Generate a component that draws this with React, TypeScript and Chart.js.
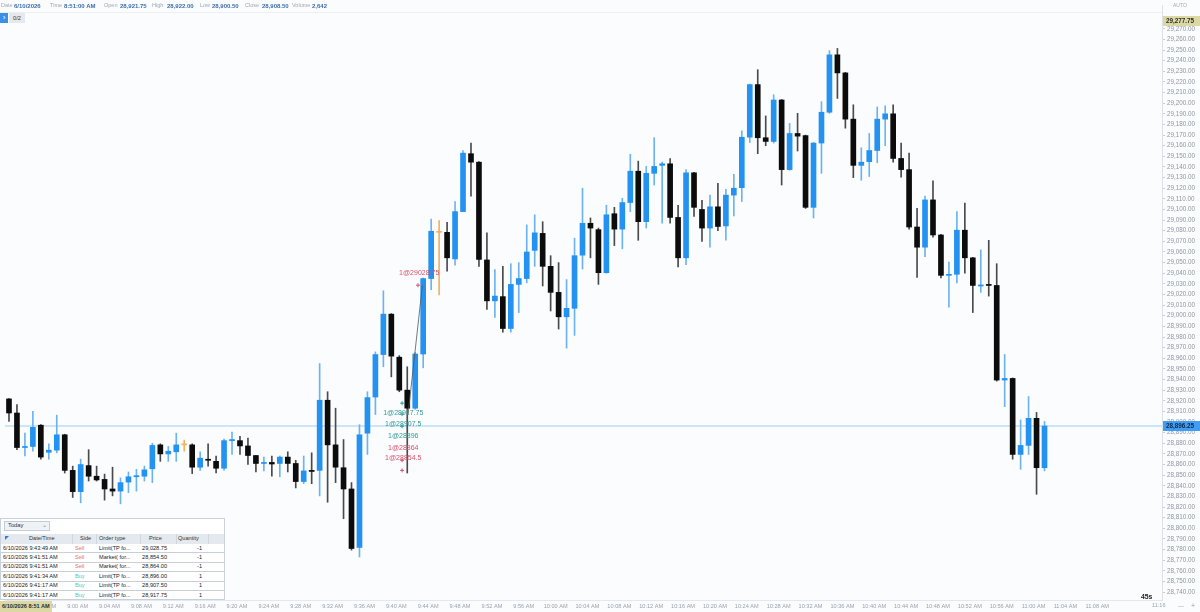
import React, { useEffect, useRef } from "react";
import { Chart, registerables } from "chart.js";

Chart.register(...registerables);

// ---------- data ----------
const START_MINUTE = 531; // 8:51 AM, one bar per minute

const opens = [
  28921.75, 28908.5, 28876, 28877, 28897, 28871.5, 28873.5, 28888, 28854.5, 28834.5,
  28859, 28849, 28846, 28837, 28835, 28843.5, 28848.5, 28849, 28856, 28878.5,
  28870, 28872, 28878.5, 28878.5, 28857.5, 28865, 28863, 28856.5, 28882.5, 28882.5,
  28877.5, 28868.5, 28861, 28862, 28861, 28867, 28861, 28844, 28854.5, 28854.5,
  28920.5, 28878.5, 28857, 28837, 28782, 28889.5, 28923.5, 28963.5, 29001.5, 28961,
  28930, 28913, 28964, 29035, 29078.5, 29078.5, 29053.5, 29098, 29152.5, 29144.5,
  29052.5, 29014, 29018, 28988, 29029.5, 29035, 29061.5, 29077.5, 29046.5, 29022,
  28999, 29007, 29057, 29087, 29081, 29040.5, 29096, 29081.5, 29106.5, 29136,
  29088.5, 29134, 29141.5, 29143, 29092.5, 29054.5, 29134.5, 29100, 29082.5, 29102.5,
  29084.5, 29113.5, 29120.5, 29168, 29217.5, 29167.5, 29164, 29203, 29137.5, 29171.5,
  29169.5, 29102, 29162.5, 29191.5, 29245.5, 29228.5, 29185, 29141.5, 29145, 29155.5,
  29185, 29190, 29148, 29137.5, 29083.5, 29064.5, 29109, 29076, 29038, 29039,
  29080.5, 29054.5, 29028, 29029.5, 29028.5, 28939.5, 28941, 28869.5, 28878, 28903.5,
  28857,
];
const highs = [
  28922, 28916.5, 28889.5, 28910, 28897.5, 28879.5, 28906.5, 28888.5, 28858.5, 28865,
  28874, 28858.5, 28851, 28857.5, 28847.5, 28853, 28855.5, 28858.5, 28880, 28879.5,
  28877, 28889.5, 28883, 28879.5, 28872, 28879.5, 28868, 28884, 28890.5, 28886.5,
  28885, 28868.5, 28867, 28868, 28868, 28872, 28864, 28868, 28871, 28955,
  28928.5, 28913, 28883.5, 28843, 28897.5, 28928.5, 28966, 29023.5, 29002, 28962.5,
  28952, 28965.5, 29035.5, 29091, 29089.5, 29088, 29107.5, 29155.5, 29162.5, 29145,
  29078, 29043.5, 29046.5, 29049, 29050, 29085.5, 29095, 29088.5, 29056.5, 29050,
  29034, 29073, 29120, 29092, 29082.5, 29104, 29102, 29110.5, 29152, 29145.5,
  29140.5, 29167.5, 29144.5, 29148, 29104, 29137.5, 29135, 29108.5, 29113.5, 29124.5,
  29119, 29133, 29174, 29218, 29231.5, 29188, 29208, 29203.5, 29181, 29190.5,
  29170, 29163, 29201.5, 29249.5, 29251.5, 29229, 29198.5, 29158, 29171.5, 29196.5,
  29197.5, 29198.5, 29162.5, 29153, 29101, 29112.5, 29127, 29076.5, 29050.5, 29098,
  29106, 29055, 29062, 29071, 29049, 28963.5, 28941.5, 28902, 28924, 28909,
  28900.5,
];
const lows = [
  28900.5, 28874, 28868, 28872.5, 28865, 28865, 28871, 28852, 28829, 28824,
  28844.5, 28844.5, 28826.5, 28830.5, 28823, 28833.5, 28835, 28844.5, 28843, 28863,
  28863, 28863, 28872.5, 28851.5, 28854.5, 28858.5, 28852, 28854.5, 28869.5, 28869.5,
  28860, 28853, 28854, 28849, 28848.5, 28853, 28838, 28842, 28842, 28830.5,
  28824.5, 28843, 28809, 28779.5, 28773, 28869.5, 28907, 28952, 28942.5, 28928.5,
  28852, 28912, 28951, 29024.5, 29019.5, 29042, 29047.5, 29098, 29112.5, 29046.5,
  29006, 28998.5, 28984.5, 28984.5, 29003, 29031, 29046.5, 29028, 29004.5, 28987.5,
  28969.5, 28981.5, 29044, 29054.5, 29029.5, 29040, 29066, 29063, 29098, 29071,
  29082.5, 29123, 29087, 29087, 29046, 29048, 29093.5, 29070, 29064.5, 29080,
  29071, 29094, 29107.5, 29163, 29152.5, 29160, 29162.5, 29123, 29137, 29155,
  29101, 29092, 29134, 29190.5, 29204.5, 29176.5, 29130, 29127.5, 29131, 29144,
  29160, 29144.5, 29130.5, 29081.5, 29036, 29055.5, 29074, 29035.5, 29008, 29031,
  29040, 29003, 29022, 29018.5, 28938.5, 28914.5, 28865, 28855.5, 28869.5, 28832,
  28854,
];
const closes = [
  28908.5, 28876, 28877, 28895, 28867, 28873.5, 28888, 28854.5, 28834.5, 28860,
  28849, 28845.5, 28837, 28835, 28843, 28848.5, 28849.5, 28855, 28878, 28870,
  28872.5, 28878.5, 28878.5, 28857.5, 28866, 28864, 28856.5, 28882.5, 28883.5, 28877.5,
  28868.5, 28861, 28862, 28860.5, 28867, 28861, 28844, 28854, 28853.5, 28920.5,
  28878.5, 28857.5, 28837, 28781, 28888, 28923, 28963.5, 29001.5, 28962, 28930,
  28913, 28964, 29035, 29079.5, 29078.5, 29054.5, 29098, 29153, 29144.5, 29053,
  29014, 29018.5, 28988, 29029.5, 29035, 29060, 29078, 29046.5, 29022, 28999,
  29007, 29056.5, 29087, 29082.5, 29040.5, 29095, 29081.5, 29106.5, 29136, 29088.5,
  29134, 29140.5, 29143, 29092.5, 29054.5, 29134.5, 29102, 29082.5, 29102.5, 29084,
  29113.5, 29120, 29168, 29217.5, 29167.5, 29164, 29203, 29137.5, 29171.5, 29169,
  29102, 29162.5, 29191.5, 29245.5, 29228.5, 29185, 29141.5, 29144.5, 29155.5, 29185,
  29190, 29148, 29137.5, 29083.5, 29064.5, 29109, 29076, 29038, 29039, 29080.5,
  29054.5, 29028.5, 29029, 29028.5, 28939.5, 28941, 28869.5, 28878, 28903.5, 28857,
  28896.25,
];

const axisTopMarker = 29277.75;
const yLabelMin = 28740;
const yLabelMax = 29270;

const orderTimes = [
  "6/10/2026 9:43:49 AM",
  "6/10/2026 9:41:51 AM",
  "6/10/2026 9:41:51 AM",
  "6/10/2026 9:41:34 AM",
  "6/10/2026 9:41:17 AM",
  "6/10/2026 9:41:17 AM",
];
const orderSides = ["Sell", "Sell", "Sell", "Buy", "Buy", "Buy"];
const orderTypes = ["Limit(TP fo...", "Market( for...", "Market( for...", "Limit(TP fo...", "Limit(TP fo...", "Limit(TP fo..."];
const orderPrices = [29028.75, 28854.5, 28864, 28896, 28907.5, 28917.75];
const orderQty = [-1, -1, -1, 1, 1, 1];

const tradeLinePrices = [28907, 29028.75];
const tradeLineMinutes = [581.1, 582.9];

const headerLabels = ["Date", "Time", "Open", "High", "Low", "Close", "Volume"];
const headerValues = ["6/10/2026", "8:51:00 AM", "28,921.75", "28,922.00", "28,900.50", "28,908.50", "2,642"];

// ---------- helpers ----------
const X_MIN = START_MINUTE - 0.5;
const X_MAX = X_MIN + 1162 / 8;
const Y_MAX = 29270 + 24 / 1.0717;
const Y_MIN = 28740 - 8 / 1.0717;

const FONT = '"Liberation Sans", Arial, sans-serif';

function fmtTime(m: number) {
  const h = Math.floor(m / 60);
  const mm = Math.round(m - h * 60);
  const suf = h >= 12 ? "PM" : "AM";
  const h12 = h % 12 || 12;
  return `${h12}:${mm < 10 ? "0" + mm : mm} ${suf}`;
}
function fmtPrice(v: number) {
  return v.toLocaleString("en-US", { minimumFractionDigits: 2, maximumFractionDigits: 2 });
}
function orderMinute(i: number) {
  const t = orderTimes[i].split(" ");
  const [h, m] = t[1].split(":").map(Number);
  const hh = (h % 12) + (t[2] === "PM" ? 12 : 0);
  return hh * 60 + m;
}

const BLUE = "#2392f0";
const BLUE_WICK = "#6db3f2";
const BLACK = "#0c0c0c";
const BLACK_WICK = "#4a4a4a";
const ORANGE = "#f2b25c";
const BUY_TXT = "#2f9b97";
const SELL_TXT = "#d9506a";

const bgPlugin = {
  id: "bg",
  beforeDraw(chart: any) {
    const { ctx } = chart;
    ctx.save();
    ctx.fillStyle = "#fbfcfe";
    ctx.fillRect(0, 0, chart.width, chart.height);
    ctx.restore();
  },
};

const annotPlugin = {
  id: "annot",
  afterDatasetsDraw(chart: any) {
    const { ctx } = chart;
    const x = chart.scales.x;
    const y = chart.scales.y;
    ctx.save();
    ctx.font = `7px ${FONT}`;
    ctx.textAlign = "center";
    ctx.textBaseline = "middle";
    orderPrices.forEach((p, i) => {
      const buy = orderSides[i] === "Buy";
      const px = x.getPixelForValue(orderMinute(i));
      const py = y.getPixelForValue(p);
      ctx.fillStyle = buy ? BUY_TXT : SELL_TXT;
      ctx.fillText(`${Math.abs(orderQty[i])}@${p}`, px - 4, py + (buy ? 10 : -12));
    });
    ctx.restore();
  },
  afterDraw(chart: any) {
    const { ctx, chartArea } = chart;
    const y = chart.scales.y;
    const box = (val: number, bg: string, fg: string) => {
      const py = Math.round(y.getPixelForValue(val));
      ctx.fillStyle = bg;
      ctx.fillRect(chartArea.right + 1, py - 5, chart.width - chartArea.right - 1, 10);
      ctx.fillStyle = fg;
      ctx.font = `bold 6.3px ${FONT}`;
      ctx.textAlign = "left";
      ctx.textBaseline = "middle";
      ctx.fillText(fmtPrice(val), chartArea.right + 4, py + 0.5);
    };
    ctx.save();
    box(closes[closes.length - 1], "#409df1", "#0d2a4a");
    box(axisTopMarker, "#dcd8a3", "#2e2e2e");
    ctx.restore();
  },
};

export default function App() {
  const ref = useRef<HTMLCanvasElement | null>(null);

  useEffect(() => {
    if (!ref.current) return;
    const times = opens.map((_, i) => START_MINUTE + i);
    const colorOf = (i: number) =>
      closes[i] > opens[i] ? BLUE : closes[i] < opens[i] ? BLACK : ORANGE;
    const wickColorOf = (i: number) =>
      closes[i] > opens[i] ? BLUE_WICK : closes[i] < opens[i] ? BLACK_WICK : ORANGE;
    const last = closes[closes.length - 1];

    const chart = new Chart(ref.current, {
      type: "bar",
      data: {
        datasets: [
          {
            type: "line",
            data: [
              { x: X_MIN, y: last },
              { x: X_MAX, y: last },
            ],
            borderColor: "#9fcdf3",
            borderWidth: 1,
            pointRadius: 0,
            order: 5,
          } as any,
          {
            data: times.map((t, i) => ({ x: t, y: [lows[i], highs[i]] })),
            backgroundColor: times.map((_, i) => wickColorOf(i)),
            barThickness: 1,
            grouped: false,
            borderWidth: 0,
            order: 2,
          } as any,
          {
            data: times.map((t, i) => ({
              x: t,
              y: [Math.min(opens[i], closes[i]), Math.max(opens[i], closes[i])],
            })),
            backgroundColor: times.map((_, i) => colorOf(i)),
            barThickness: 5,
            minBarLength: 1,
            grouped: false,
            borderWidth: 0,
            order: 1,
          } as any,
          {
            type: "line",
            data: tradeLineMinutes.map((m, i) => ({ x: m, y: tradeLinePrices[i] })),
            borderColor: "#555555",
            borderWidth: 0.8,
            pointRadius: 0,
            order: 0,
          } as any,
          {
            type: "scatter",
            data: orderPrices.map((p, i) => ({ x: orderMinute(i) - 0.65, y: p })),
            pointStyle: "cross",
            pointRadius: 2,
            borderWidth: 1,
            borderColor: orderSides.map((s) => (s === "Buy" ? BUY_TXT : SELL_TXT)),
            backgroundColor: "transparent",
            order: -1,
          } as any,
        ],
      },
      options: {
        animation: false,
        responsive: false,
        events: [],
        layout: { padding: 0 },
        plugins: { legend: { display: false }, tooltip: { enabled: false } },
        scales: {
          x: {
            type: "linear",
            min: X_MIN,
            max: X_MAX,
            offset: false,
            grid: { display: false, drawTicks: false },
            border: { display: true, color: "#e4e8ee" },
            ticks: {
              stepSize: 4,
              autoSkip: false,
              maxRotation: 0,
              padding: 3,
              labelOffset: -3,
              color: "#9ba3ae",
              font: { family: FONT, size: 5.6 },
              callback: (v: any) => fmtTime(Number(v)),
            },
            afterBuildTicks: (s: any) => {
              s.ticks = s.ticks.filter((t: any) => Math.abs(t.value % 4) < 1e-6);
            },
            afterFit: (s: any) => {
              s.height = 12;
              s.paddingLeft = 0;
              s.paddingRight = 0;
            },
          } as any,
          y: {
            position: "right",
            min: Y_MIN,
            max: Y_MAX,
            grid: { drawOnChartArea: false, drawTicks: true, tickLength: 3, color: "#c9ced6" },
            border: { display: true, color: "#dde2e9" },
            ticks: {
              stepSize: 10,
              autoSkip: false,
              padding: 2,
              color: "#8e97a2",
              font: { family: FONT, size: 6.3 },
              callback: (v: any) => fmtPrice(Number(v)),
            },
            afterBuildTicks: (s: any) => {
              s.ticks = s.ticks.filter(
                (t: any) =>
                  Math.abs(t.value % 10) < 1e-6 && t.value >= yLabelMin - 1e-6 && t.value <= yLabelMax + 1e-6
              );
            },
            afterFit: (s: any) => {
              s.width = 38;
              s.paddingTop = 0;
              s.paddingBottom = 0;
            },
          } as any,
        },
      },
      plugins: [bgPlugin, annotPlugin],
    });
    return () => chart.destroy();
  }, []);

  const headerLabelX = [1, 50, 104, 152, 200, 245, 292];
  const headerValueX = [14, 64, 120, 167, 212, 262, 312];
  const rowTop = 543.5;
  const rowH = 9.4;

  const txt: React.CSSProperties = {
    position: "absolute",
    fontFamily: FONT,
    whiteSpace: "nowrap",
    lineHeight: "1",
  };

  return (
    <div
      style={{
        position: "fixed",
        left: 0,
        top: 0,
        width: 1200,
        height: 612,
        overflow: "hidden",
        background: "#fbfcfe",
      }}
    >
      <canvas ref={ref} width={1200} height={612} style={{ position: "absolute", left: 0, top: 0 }} />

      {/* header data line */}
      {headerLabels.map((l, i) => (
        <React.Fragment key={l}>
          <span style={{ ...txt, left: headerLabelX[i], top: 3, fontSize: 5.5, color: "#a0a8b3" }}>{l}</span>
          <span style={{ ...txt, left: headerValueX[i], top: 3, fontSize: 6, color: "#3d6ea8", fontWeight: "bold" }}>
            {headerValues[i]}
          </span>
        </React.Fragment>
      ))}
      <div style={{ position: "absolute", left: 0, top: 12, width: 1162, height: 1, background: "#eceff4" }} />
      <div
        style={{
          position: "absolute",
          left: 0,
          top: 13,
          width: 8,
          height: 10,
          background: "#3a8fe6",
          color: "#fff",
          fontSize: 8,
          fontFamily: FONT,
          lineHeight: "10px",
          textAlign: "center",
        }}
      >
        ›
      </div>
      <div
        style={{
          position: "absolute",
          left: 9,
          top: 13,
          width: 16,
          height: 10,
          background: "#e5e8ed",
          color: "#333",
          fontSize: 5.6,
          fontFamily: FONT,
          lineHeight: "10px",
          textAlign: "center",
        }}
      >
        0/2
      </div>

      {/* axis extras */}
      <span style={{ ...txt, left: 1173, top: 3, fontSize: 5, color: "#a3abb5" }}>AUTO</span>
      <span style={{ ...txt, left: 1141, top: 594, fontSize: 6.8, color: "#1c1c1c", fontWeight: "bold" }}>45s</span>
      <span style={{ ...txt, left: 1152, top: 603, fontSize: 5.6, color: "#9ba3ae" }}>11:16</span>
      <span style={{ ...txt, left: 1178, top: 603, fontSize: 6, color: "#9aa2ad" }}>—</span>
      <span style={{ ...txt, left: 1191, top: 602, fontSize: 7, color: "#9aa2ad" }}>+</span>
      <div
        style={{
          position: "absolute",
          left: 0,
          top: 601,
          width: 52,
          height: 11,
          background: "#dcd8a3",
          color: "#2e2e2e",
          fontFamily: FONT,
          fontSize: 5.6,
          fontWeight: "bold",
          lineHeight: "11px",
          paddingLeft: 2,
          boxSizing: "border-box",
          whiteSpace: "nowrap",
        }}
      >
        6/10/2026 8:51 AM
      </div>

      {/* orders table */}
      <div
        style={{
          position: "absolute",
          left: 0,
          top: 518,
          width: 225,
          height: 82,
          background: "#ffffff",
          border: "1px solid #c9d2de",
          boxSizing: "border-box",
        }}
      />
      <div
        style={{
          position: "absolute",
          left: 4,
          top: 521,
          width: 46,
          height: 10,
          background: "#eef1f6",
          border: "1px solid #c3ccd8",
          boxSizing: "border-box",
        }}
      />
      <span style={{ ...txt, left: 8, top: 523, fontSize: 5.8, color: "#333" }}>Today</span>
      <span style={{ ...txt, left: 42, top: 522, fontSize: 6, color: "#7c8591" }}>⌄</span>
      <div style={{ position: "absolute", left: 1, top: 534, width: 223, height: 9.5, background: "#e4e9f0" }} />
      <div
        style={{
          position: "absolute",
          left: 5,
          top: 536,
          width: 0,
          height: 0,
          borderTop: "4px solid #2a7de1",
          borderRight: "4px solid transparent",
        }}
      />
      {[
        ["Date/Time", 29],
        ["Side", 80],
        ["Order type", 99],
        ["Price", 149],
        ["Quantity", 178],
      ].map(([t, x]) => (
        <span key={t as string} style={{ ...txt, left: x as number, top: 536, fontSize: 5.6, color: "#333" }}>
          {t}
        </span>
      ))}
      {[72, 96, 140, 176, 208].map((x) => (
        <div key={x} style={{ position: "absolute", left: x, top: 534, width: 1, height: 9.5, background: "#cfd6e0" }} />
      ))}
      {orderTimes.map((t, i) => {
        const top = rowTop + i * rowH;
        const buy = orderSides[i] === "Buy";
        return (
          <React.Fragment key={i}>
            <div
              style={{ position: "absolute", left: 1, top: top + rowH - 0.5, width: 223, height: 1, background: "#c8cfd9" }}
            />
            <span style={{ ...txt, left: 3, top: top + 2, fontSize: 5.6, color: "#222" }}>{t}</span>
            <span style={{ ...txt, left: 75, top: top + 2, fontSize: 5.6, color: buy ? "#4fc9ae" : "#e8705a" }}>
              {orderSides[i]}
            </span>
            <span style={{ ...txt, left: 99, top: top + 2, fontSize: 5.6, color: "#222" }}>{orderTypes[i]}</span>
            <span style={{ ...txt, right: 1200 - 167, top: top + 2, fontSize: 5.6, color: "#222" }}>
              {fmtPrice(orderPrices[i])}
            </span>
            <span style={{ ...txt, right: 1200 - 202, top: top + 2, fontSize: 5.6, color: "#222" }}>
              {String(orderQty[i])}
            </span>
          </React.Fragment>
        );
      })}
    </div>
  );
}
